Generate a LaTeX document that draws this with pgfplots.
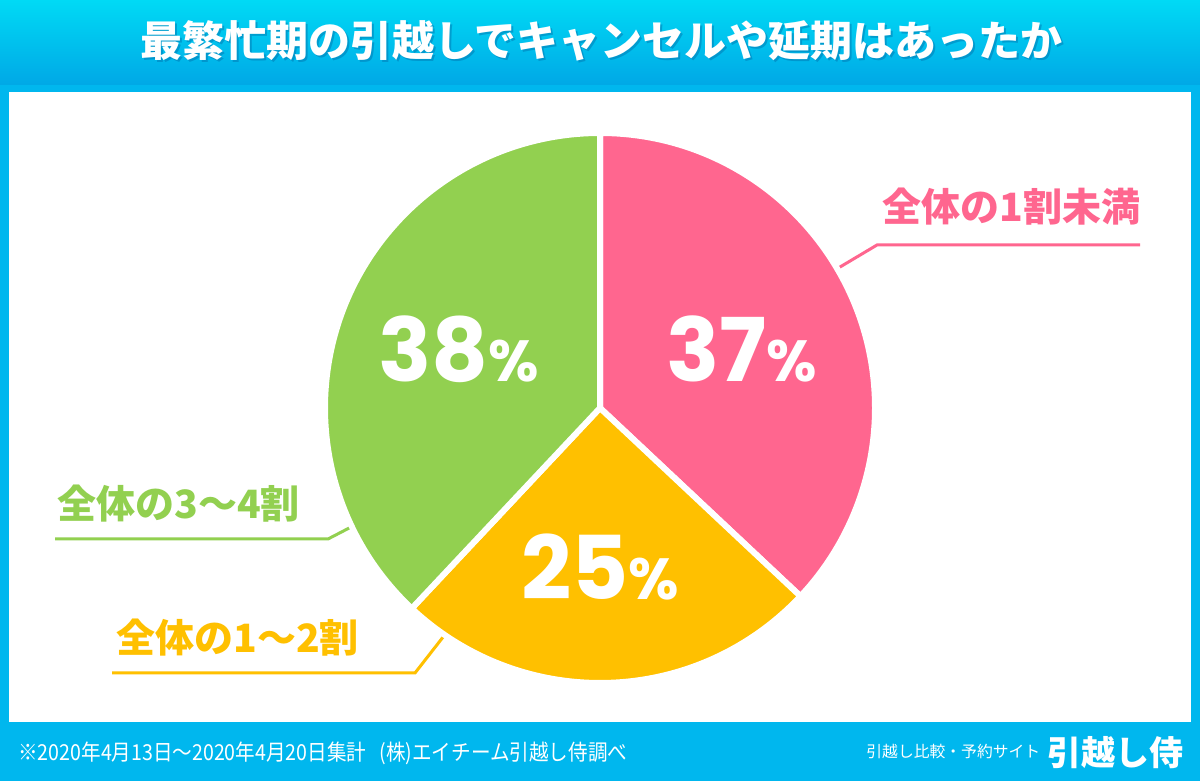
\documentclass[border=0pt]{standalone}
\usepackage{pgfplots}
\pgfplotsset{compat=1.18}
\usepackage{pgfplotstable}
\usepackage{fontspec}
\setmainfont{Noto Sans CJK JP}
\newfontfamily\numfont{Poppins}
\newfontfamily\condfont{Noto Sans CJK JP}[FakeStretch=0.89]

\definecolor{pinkc}{RGB}{255,102,143}
\definecolor{yellowc}{RGB}{255,192,0}
\definecolor{greenc}{RGB}{146,208,80}
\definecolor{framec}{RGB}{0,183,238}
\definecolor{topc}{RGB}{0,218,245}
\definecolor{botc}{RGB}{0,168,230}
\definecolor{shadowc}{RGB}{0,110,170}

% share of movers (percent), clockwise from 12 o'clock
\pgfplotstableread{
pct
37
25
38
}\piedata

\begin{document}
\begin{tikzpicture}
\pgfplotstablegetelem{0}{pct}\of\piedata \let\pA\pgfplotsretval
\pgfplotstablegetelem{1}{pct}\of\piedata \let\pB\pgfplotsretval
\pgfplotstablegetelem{2}{pct}\of\piedata \let\pC\pgfplotsretval
\pgfmathsetmacro\aA{90-3.6*\pA}
\pgfmathsetmacro\aB{\aA-3.6*\pB}
\pgfmathsetmacro\aC{\aB-3.6*\pC}
\begin{axis}[
  x=0.5pt, y=0.5pt,
  xmin=0, xmax=1200, ymin=0, ymax=781,
  hide axis, clip=false,
]
% frame, title band, white panel
\fill[framec] (axis cs:0,0) rectangle (axis cs:1200,781);
\shade[top color=topc, bottom color=botc] (axis cs:0,696) rectangle (axis cs:1200,781);
\fill[white] (axis cs:9,59) rectangle (axis cs:1191,689);

% title
\node[anchor=base, text=shadowc, opacity=0.45, font=\bfseries\fontsize{21}{21}\selectfont]
  at (axis cs:603.5,722) {最繁忙期の引越しでキャンセルや延期はあったか};
\node[anchor=base, text=white, font=\bfseries\fontsize{21}{21}\selectfont]
  at (axis cs:601.5,724) {最繁忙期の引越しでキャンセルや延期はあったか};

% leader lines
\draw[pinkc, line width=1.5pt] (axis cs:1140,536) -- (axis cs:877,536) -- (axis cs:835,511);
\draw[greenc, line width=1.5pt] (axis cs:55,242) -- (axis cs:328,242) -- (axis cs:355,256);
\draw[yellowc, line width=1.5pt] (axis cs:112,108) -- (axis cs:415,108) -- (axis cs:447,149);

% pie sectors
\fill[pinkc, draw=white, line width=3pt, line join=round]
  (axis cs:600,373) -- ++(90:137.5pt) arc[start angle=90, end angle=\aA, radius=137.5pt] -- cycle;
\fill[yellowc, draw=white, line width=3pt, line join=round]
  (axis cs:600,373) -- ++(\aA:137.5pt) arc[start angle=\aA, end angle=\aB, radius=137.5pt] -- cycle;
\fill[greenc, draw=white, line width=3pt, line join=round]
  (axis cs:600,373) -- ++(\aB:137.5pt) arc[start angle=\aB, end angle=\aC, radius=137.5pt] -- cycle;

% percentages
\node[anchor=base, text=white, font=\numfont\bfseries\fontsize{44}{44}\selectfont]
  at (axis cs:742,399) {\pA{\fontsize{29}{29}\selectfont\%}};
\node[anchor=base, text=white, font=\numfont\bfseries\fontsize{44}{44}\selectfont]
  at (axis cs:600,181) {\pB{\fontsize{29}{29}\selectfont\%}};
\node[anchor=base, text=white, font=\numfont\bfseries\fontsize{44}{44}\selectfont]
  at (axis cs:459,399) {\pC{\fontsize{29}{29}\selectfont\%}};

% category labels
\node[anchor=base east, inner sep=0pt, text=pinkc, font=\bfseries\fontsize{19.5}{20}\selectfont]
  at (axis cs:1141,559) {全体の1割未満};
\node[anchor=base west, inner sep=0pt, text=greenc, font=\bfseries\fontsize{19.5}{20}\selectfont]
  at (axis cs:57,262) {全体の3～4割};
\node[anchor=base west, inner sep=0pt, text=yellowc, font=\bfseries\fontsize{19.5}{20}\selectfont]
  at (axis cs:116,128) {全体の1～2割};

% footer
\node[anchor=west, inner sep=0pt, text=white, font=\condfont\fontsize{11}{11}\selectfont]
  at (axis cs:18,28) {※2020年4月13日～2020年4月20日集計\hspace{0.6em}(株)エイチーム引越し侍調べ};
\node[anchor=west, inner sep=0pt, text=white, font=\fontsize{7.9}{7.9}\selectfont]
  at (axis cs:866,29) {引越し比較・予約サイト};
\node[anchor=west, inner sep=0pt, text=white, font=\bfseries\fontsize{17}{17}\selectfont]
  at (axis cs:1047,28) {引越し侍};
\end{axis}
\end{tikzpicture}
\end{document}
